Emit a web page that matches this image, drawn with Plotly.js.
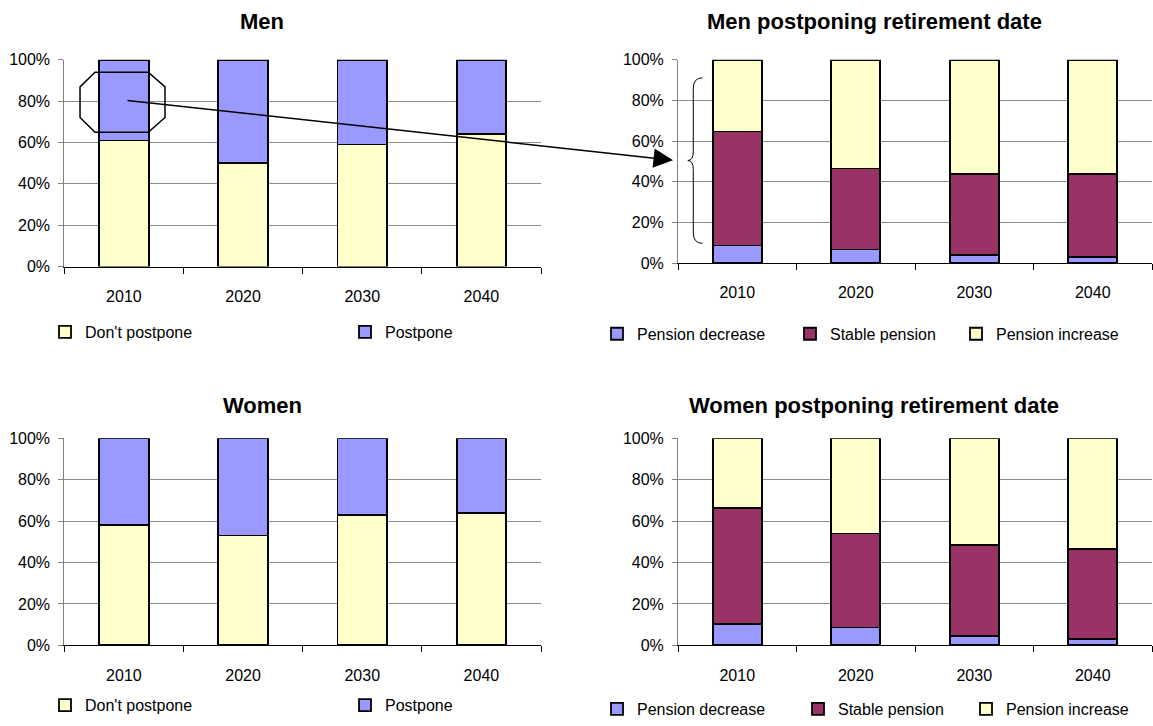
<!DOCTYPE html>
<html><head><meta charset="utf-8">
<script src="https://cdn.plot.ly/plotly-3.0.1.min.js"></script>
<style>html,body{margin:0;padding:0;background:#fff}</style>
</head><body>
<div id="chart" style="width:1153px;height:726px"></div>
<script>
// ---- data ----
const years = ['2010', '2020', '2030', '2040'];
const menDontPostpone = [61, 50, 59, 64];
const menPostpone = [39, 50, 41, 36];
const womenDontPostpone = [58, 53, 63, 64];
const womenPostpone = [42, 47, 37, 36];
const menPensionDecrease = [8.7, 6.8, 4.0, 3.2];
const menStablePension = [56.1, 39.8, 39.9, 40.7];
const menPensionIncrease = [35.2, 53.4, 56.1, 56.1];
const womenPensionDecrease = [10.5, 8.6, 4.6, 2.9];
const womenStablePension = [55.9, 45.4, 43.9, 43.7];
const womenPensionIncrease = [33.6, 46.0, 51.5, 53.4];
const yTickVals = [0, 20, 40, 60, 80, 100];
const yTickLabels = ['0%', '20%', '40%', '60%', '80%', '100%'];
const chartTitles = ['Men', 'Men postponing retirement date', 'Women', 'Women postponing retirement date'];
const seriesNames = ["Don't postpone", 'Postpone', 'Pension decrease', 'Stable pension', 'Pension increase'];

// ---- style ----
const W = 1153, H = 726;
const FONT = 'Arial, "Liberation Sans", sans-serif';
const YELLOW = '#FFFFCC', BLUE = '#9999FF', MAROON = '#993366';
const px = v => v / W;
const py = v => 1 - v / H;

function bar(x, y, name, color, xa, ya, legend) {
  return {
    type: 'bar', x: x, y: y, name: name, xaxis: xa, yaxis: ya, legend: legend,
    marker: {color: color, line: {color: '#000', width: 1.8}},
    hoverinfo: 'skip'
  };
}

const traces = [
  bar(years, menDontPostpone, seriesNames[0], YELLOW, 'x', 'y', 'legend'),
  bar(years, menPostpone, seriesNames[1], BLUE, 'x', 'y', 'legend2'),
  bar(years, menPensionDecrease, seriesNames[2], BLUE, 'x2', 'y2', 'legend3'),
  bar(years, menStablePension, seriesNames[3], MAROON, 'x2', 'y2', 'legend4'),
  bar(years, menPensionIncrease, seriesNames[4], YELLOW, 'x2', 'y2', 'legend5'),
  bar(years, womenDontPostpone, seriesNames[0], YELLOW, 'x3', 'y3', 'legend6'),
  bar(years, womenPostpone, seriesNames[1], BLUE, 'x3', 'y3', 'legend7'),
  bar(years, womenPensionDecrease, seriesNames[2], BLUE, 'x4', 'y4', 'legend8'),
  bar(years, womenStablePension, seriesNames[3], MAROON, 'x4', 'y4', 'legend9'),
  bar(years, womenPensionIncrease, seriesNames[4], YELLOW, 'x4', 'y4', 'legend10')
];

function xAxis(x0, x1, anchor) {
  return {
    domain: [px(x0), px(x1)], anchor: anchor, type: 'category',
    showline: true, linecolor: '#000', linewidth: 1,
    ticks: 'outside', tickson: 'boundaries', ticklen: 6, tickcolor: '#000', tickwidth: 1,
    showgrid: false, zeroline: false, fixedrange: true,
    tickfont: {family: FONT, size: 16, color: '#000'}, ticklabelstandoff: 15
  };
}
function yAxis(y0, y1, anchor) {
  return {
    domain: [py(y0), py(y1)], anchor: anchor, range: [0, 100],
    tickmode: 'array', tickvals: yTickVals, ticktext: yTickLabels,
    showline: true, linecolor: '#808080', linewidth: 1,
    ticks: 'outside', ticklen: 5, tickcolor: '#808080',
    showgrid: true, gridcolor: '#8c8c8c', gridwidth: 1, zeroline: false, fixedrange: true,
    tickfont: {family: FONT, size: 16, color: '#000'}, ticklabelstandoff: 5
  };
}

// legend placed by the centre of its colour swatch
function legendAt(cx, cy) {
  return {
    x: px(cx - 20), y: py(cy + 4), xanchor: 'left', yanchor: 'middle',
    orientation: 'h', bgcolor: 'rgba(0,0,0,0)', borderwidth: 0,
    font: {family: FONT, size: 16, color: '#000'},
    itemclick: false, itemdoubleclick: false, visible: true
  };
}

function title(text, cx, cy) {
  return {
    text: '<b>' + text + '</b>', xref: 'paper', yref: 'paper',
    x: px(cx), y: py(cy), xanchor: 'center', yanchor: 'middle',
    showarrow: false, font: {family: FONT, size: 22, color: '#000'}
  };
}

const layout = {
  width: W, height: H, autosize: false, showlegend: true,
  margin: {l: 0, r: 0, t: 0, b: 0},
  paper_bgcolor: '#fff', plot_bgcolor: '#fff',
  barmode: 'stack', bargap: 0.585, hovermode: false,
  xaxis: xAxis(64.3, 541, 'y'),
  yaxis: yAxis(270.7, 60.7, 'x'),
  xaxis2: xAxis(678, 1152, 'y2'),
  yaxis2: yAxis(267.3, 60.7, 'x2'),
  xaxis3: xAxis(64.3, 541, 'y3'),
  yaxis3: yAxis(655.3, 445, 'x3'),
  xaxis4: xAxis(678, 1152, 'y4'),
  yaxis4: yAxis(655.3, 445, 'x4'),
  legend: legendAt(65, 333),
  legend2: legendAt(365, 333),
  legend3: legendAt(617, 335),
  legend4: legendAt(810, 335),
  legend5: legendAt(976, 335),
  legend6: legendAt(65, 712),
  legend7: legendAt(365, 712),
  legend8: legendAt(617, 716),
  legend9: legendAt(818, 716),
  legend10: legendAt(986, 716),
  annotations: [
    title(chartTitles[0], 262, 22),
    title(chartTitles[1], 874, 22),
    title(chartTitles[2], 262, 412),
    title(chartTitles[3], 874, 412),
    {
      text: '', xref: 'paper', yref: 'paper', x: px(673), y: py(162.7),
      axref: 'pixel', ayref: 'pixel', ax: 126 - 673, ay: 102.7 - 162.7,
      showarrow: true, arrowhead: 2, arrowsize: 2.6, arrowwidth: 1.5, arrowcolor: '#000', standoff: 0
    }
  ],
  shapes: [
    { // octagon around the 2010 "Postpone" segment
      type: 'path', xref: 'x', yref: 'y', layer: 'above',
      path: 'M-0.242,94.0 L0.205,94.0 L0.345,86.9 L0.345,72.1 L0.205,64.95 L-0.242,64.95 L-0.368,72.1 L-0.368,86.9 Z',
      line: {color: '#000', width: 1.5}, fillcolor: 'rgba(0,0,0,0)'
    },
    { // curly brace next to the 2010 bar of the right chart
      type: 'path', xref: 'x2', yref: 'y2', layer: 'above',
      path: 'M-0.294,91.1 Q-0.371,91.1 -0.371,86 L-0.371,55 Q-0.371,50.5 -0.417,50.5 Q-0.371,50.5 -0.371,46 L-0.371,15 Q-0.371,9.8 -0.294,9.8',
      line: {color: '#000', width: 1}, fillcolor: 'rgba(0,0,0,0)'
    }
  ]
};

Plotly.newPlot('chart', traces, layout, {displayModeBar: false, staticPlot: true});
</script>
</body></html>
